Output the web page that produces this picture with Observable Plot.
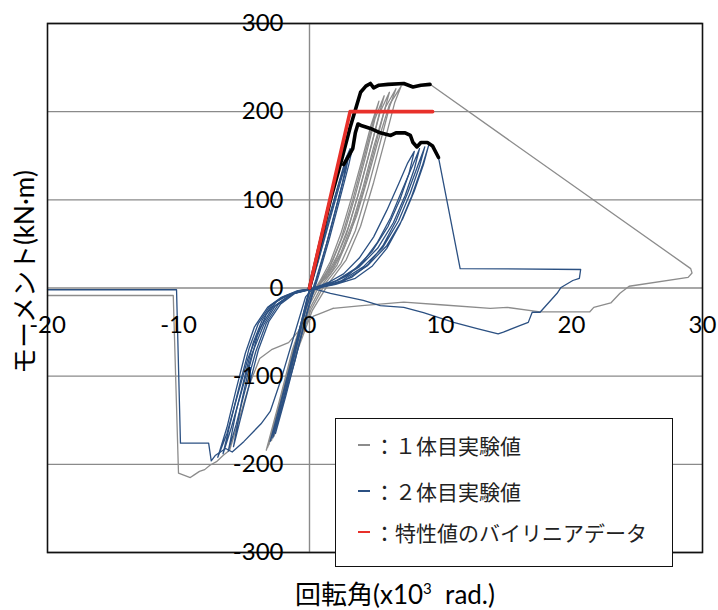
<!DOCTYPE html>
<html><head><meta charset="utf-8">
<script src="https://cdn.jsdelivr.net/npm/d3@7"></script>
<script src="https://cdn.jsdelivr.net/npm/@observablehq/plot@0.6"></script>
<style>
body{margin:0;background:#fff;}
#wrap{position:relative;width:718px;height:610px;font-family:Lato,"Noto Sans CJK JP",sans-serif;}
.lg{position:absolute;left:335px;top:418px;width:338px;height:149px;background:#fff;border:1.6px solid #111;box-sizing:border-box;}
.row{position:absolute;left:0;height:24px;font-family:"Noto Sans CJK JP",serif;font-size:21px;line-height:24px;color:#222;white-space:pre;}
.sw{position:absolute;left:22px;top:11px;width:12px;height:2px;}
.tx{position:absolute;left:38px;top:0;}
</style></head>
<body><div id="wrap"></div>
<script>
const xTicks = [-20,-10,0,10,20,30];
const yTicks = [-300,-200,-100,0,100,200,300];

// specimen 1 (gray) cycles
const g1 = [[-2.7,-168],[-1.8,-110],[-0.9,-55],[0,-12],[0.8,8],[1.6,30],[2.4,62],[3.2,102],[4.0,145],[4.7,185],[5.3,212],[4.9,190],[4.2,150],[3.3,100],[2.4,55],[1.5,22],[0.6,2],[-0.2,-20],[-1.2,-75],[-2.0,-120],[-2.7,-168]];
const g2 = [[-2.9,-173],[-2.0,-118],[-1.0,-60],[0,-10],[1.0,10],[1.8,32],[2.7,65],[3.5,105],[4.3,150],[5.0,192],[5.7,218],[5.3,196],[4.6,155],[3.7,105],[2.8,60],[1.8,25],[0.8,4],[-0.1,-22],[-1.1,-72],[-2.1,-125],[-2.9,-173]];
const g3 = [[-3.1,-178],[-2.1,-122],[-1.1,-64],[0,-8],[1.2,12],[2.1,36],[3.0,70],[3.8,110],[4.6,155],[5.4,200],[6.1,222],[5.7,200],[5.0,160],[4.1,110],[3.1,62],[2.1,26],[1.0,4],[0,-24],[-1.0,-70],[-2.2,-130],[-3.1,-178]];
const g4 = [[-3.2,-181],[-2.2,-126],[-1.2,-68],[0.1,-6],[1.4,14],[2.4,40],[3.3,75],[4.1,115],[4.9,160],[5.8,205],[6.6,226],[6.1,205],[5.4,165],[4.5,115],[3.5,65],[2.4,28],[1.2,5],[0.1,-25],[-1.0,-72],[-2.2,-132],[-3.2,-181]];
const g5 = [[-3.3,-184],[-2.3,-128],[-1.3,-70],[0.2,-4],[1.6,16],[2.6,44],[3.6,82],[4.4,122],[5.2,165],[6.1,208],[7.0,229],[6.5,210],[5.8,170],[4.9,120],[3.9,70],[2.8,32],[1.5,6],[0.2,-26],[-1.0,-74],[-2.3,-136],[-3.3,-184]];
const gLeft = [[-20,-8.5],[-10.4,-8.5],[-10.0,-210],[-9.1,-215],[-8.8,-212],[-8.4,-208],[-8.0,-206],[-7.6,-201],[-7.1,-197],[-6.6,-190],[-6.1,-184],[-5.4,-150],[-4.6,-110],[-3.8,-80],[-2.9,-70],[-1.6,-62],[-0.6,-45],[0.3,-32],[0.8,-29],[1.8,-23]];
const gFinal = [[1.8,-23],[4.0,-20],[7.2,-16],[10.0,-19],[13.8,-23],[15.1,-22],[17.6,-27],[21.4,-27],[21.7,-22],[23.0,-17],[23.7,-6],[24.4,2],[28.9,12],[29.2,17],[29.1,22],[9.2,231]];

// specimen 2 (blue) cycles
const bs1 = [[-2.8,-170],[-2.0,-120],[-1.0,-62],[-0.2,-12],[0.5,25],[1.3,70],[2.1,112],[2.8,148],[3.1,158],[2.8,135],[2.1,95],[1.3,50],[0.5,10],[-0.3,-25],[-1.2,-80],[-2.0,-128],[-2.8,-170]];
const bs2 = [[-3.0,-174],[-2.1,-124],[-1.1,-66],[-0.1,-8],[0.6,28],[1.4,74],[2.2,116],[2.9,150],[3.3,160],[3.0,140],[2.3,100],[1.5,55],[0.7,14],[-0.2,-28],[-1.1,-82],[-2.1,-134],[-3.0,-174]];
const bs3 = [[-2.6,-165],[-1.8,-114],[-0.9,-58],[0,-4],[0.7,32],[1.6,80],[2.4,122],[3.0,152],[2.5,118],[1.7,72],[0.9,28],[0,-18],[-0.9,-70],[-1.8,-122],[-2.6,-165]];
const bw1 = [[0.3,0],[1.4,6],[2.6,16],[3.8,34],[4.9,58],[5.9,88],[6.8,118],[7.5,142],[8.0,155],[7.6,130],[6.9,100],[6.0,70],[4.8,42],[3.5,22],[2.0,8],[0.5,0],[-0.6,-3],[-1.6,-8],[-2.5,-15],[-3.3,-30],[-4.0,-55],[-4.6,-90],[-5.2,-130],[-5.8,-180],[-5.3,-150],[-4.6,-110],[-3.9,-70],[-3.1,-38],[-2.2,-18],[-1.1,-6],[0.3,0]];
const bw2 = [[0.4,0],[1.6,5],[2.9,14],[4.1,30],[5.2,52],[6.2,80],[7.1,112],[7.9,140],[8.4,158],[8.0,135],[7.3,105],[6.4,74],[5.2,45],[3.8,24],[2.2,9],[0.6,0],[-0.7,-3],[-1.8,-9],[-2.8,-18],[-3.6,-36],[-4.3,-62],[-4.9,-98],[-5.6,-140],[-6.2,-185],[-5.6,-155],[-4.9,-115],[-4.1,-72],[-3.3,-40],[-2.4,-19],[-1.2,-6],[0.4,0]];
const bw3 = [[0.5,0],[1.8,4],[3.2,12],[4.5,27],[5.6,48],[6.6,76],[7.5,108],[8.3,140],[8.8,160],[8.4,138],[7.7,108],[6.8,76],[5.6,46],[4.1,24],[2.4,8],[0.7,0],[-0.8,-3],[-2.0,-10],[-3.0,-20],[-3.9,-40],[-4.6,-68],[-5.3,-108],[-6.0,-150],[-6.6,-188],[-6.0,-160],[-5.2,-118],[-4.4,-75],[-3.5,-42],[-2.6,-20],[-1.3,-6],[0.5,0]];
const bw4 = [[0.6,0],[2.0,4],[3.5,11],[4.8,25],[5.9,45],[6.9,72],[7.8,104],[8.6,138],[9.1,162],[8.7,140],[8.0,110],[7.1,78],[5.9,48],[4.4,25],[2.6,8],[0.8,0],[-0.9,-3],[-2.2,-11],[-3.2,-22],[-4.2,-44],[-4.9,-74],[-5.6,-115],[-6.3,-158],[-7.0,-192],[-6.3,-165],[-5.5,-122],[-4.7,-80],[-3.8,-46],[-2.8,-22],[-1.4,-7],[0.6,0]];
const bLeft = [[-20,-2],[-10.15,-2],[-9.85,-176],[-7.7,-176],[-7.5,-196],[-7.2,-190],[-6.8,-186],[-6.4,-182],[-5.9,-186],[-5.0,-174],[-3.7,-154],[-3.0,-140],[-2.2,-105],[-1.2,-55],[-0.3,-10],[0.3,0]];
const bFinal = [[9.85,148],[11.5,22],[20.7,21],[20.6,11],[20.1,8.5],[19.2,0.6],[18.9,-6],[17.6,-27.5],[17.0,-27.5],[16.7,-39],[16.1,-42.5],[14.8,-50],[14.4,-52],[12.8,-46],[11.0,-39],[8.7,-28],[7.2,-22],[5.4,-20],[4.1,-14],[1.6,-6],[0.3,-0.6]];

// envelopes and bilinear
const envUpper = [[0,0],[0.8,50],[1.6,100],[2.37,141],[3.1,182],[3.6,207],[3.9,222],[4.3,229],[4.65,232],[4.9,227],[5.3,230],[6.0,231],[7.2,232],[7.9,228],[8.5,230],[9.2,231]];
const envLower = [[2.6,140],[3.0,150],[3.3,158],[3.5,176],[3.7,186],[4.0,184],[4.65,181],[5.4,176],[6.2,173],[6.6,176],[7.3,176],[7.7,173],[7.9,165],[8.2,160],[8.5,165],[9.0,165],[9.4,161],[9.85,148]];
const bilinear = [[0,0],[3.1,200],[9.4,200]];

const grayC = "#8c8c8c", blueC = "#2b5082", redC = "#e8302a";
const rows = (arrs) => arrs.flatMap((a,i)=>a.map(([x,y])=>({x,y,id:i})));

const grayRows = rows([g1,g2,g3,g4,g5,gLeft,gFinal]);
const blueRows = rows([bs1,bs2,bs3,bw1,bw2,bw3,bw4,bLeft,bFinal]);
const blackRows = rows([envUpper,envLower]);
const redRows = rows([bilinear]);

const tf = "Lato, 'Noto Sans CJK JP', sans-serif";
const chart = Plot.plot({
  width:718, height:610,
  marginLeft:47, marginRight:16, marginTop:23, marginBottom:58,
  x:{domain:[-20,30], axis:null},
  y:{domain:[-300,300], axis:null},
  style:{background:"#fff"},
  marks:[
    Plot.ruleY(yTicks, {stroke:"#8a8a8a", strokeWidth:1.4}),
    Plot.ruleX([0], {stroke:"#8a8a8a", strokeWidth:1.4}),
    Plot.line(grayRows, {x:"x", y:"y", z:"id", stroke:grayC, strokeWidth:1.3, curve:"linear"}),
    Plot.line(blueRows, {x:"x", y:"y", z:"id", stroke:blueC, strokeWidth:1.3, curve:"linear"}),
    Plot.line(blackRows, {x:"x", y:"y", z:"id", stroke:"#000", strokeWidth:3.6, strokeLinejoin:"round"}),
    Plot.line(redRows, {x:"x", y:"y", stroke:redC, strokeWidth:3.6}),
    Plot.frame({stroke:"#111", strokeWidth:1.6}),
    Plot.text(yTicks, {x:0, y:d=>d, text:d=>String(d), dx:-26, textAnchor:"end", fontSize:24, fontFamily:tf, fill:"#000"}),
    Plot.text(xTicks, {x:d=>d, y:0, text:d=>String(d), dy:37, textAnchor:"middle", fontSize:24, fontFamily:tf, fill:"#000"})
  ]
});
const wrap = document.getElementById("wrap");
wrap.appendChild(chart);
chart.style.position="absolute"; chart.style.left="0"; chart.style.top="0";

// axis titles
const yt = document.createElement("div");
yt.textContent = "モーメント(kN·m)";
Object.assign(yt.style,{position:"absolute",left:"22px",top:"272px",transform:"translate(-50%,-50%) rotate(-90deg)",fontSize:"26px",whiteSpace:"nowrap",fontFamily:tf,color:"#000"});
wrap.appendChild(yt);
const xt = document.createElement("div");
xt.innerHTML = "回転角(x10<sup style='font-size:15px;vertical-align:10px;line-height:0'>3</sup>&nbsp; rad.)";
Object.assign(xt.style,{position:"absolute",left:"395px",top:"592px",transform:"translate(-50%,-50%)",fontSize:"26px",whiteSpace:"nowrap",fontFamily:tf,color:"#000"});
wrap.appendChild(xt);

// legend
const legendItems = [["：１体目実験値",grayC,14],["：２体目実験値",blueC,60],["：特性値のバイリニアデータ",redC,101]];
const lg = document.createElement("div"); lg.className="lg";
legendItems.forEach(([t,c,top])=>{
  const r=document.createElement("div"); r.className="row"; r.style.top=top+"px"; r.style.width="330px";
  r.innerHTML=`<div class="sw" style="background:${c}"></div><div class="tx">${t}</div>`;
  lg.appendChild(r);
});
wrap.appendChild(lg);
</script></body></html>
